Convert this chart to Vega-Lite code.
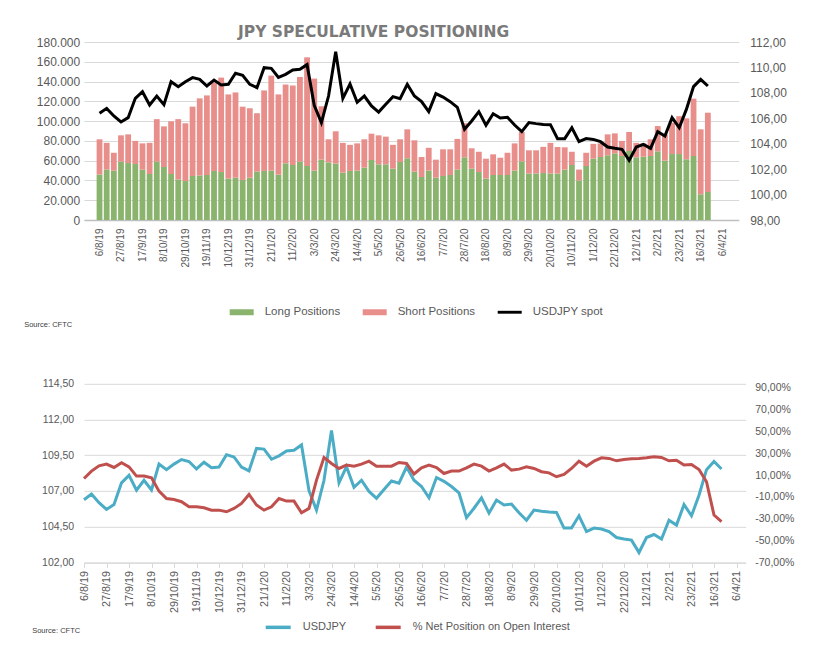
{
  "$schema": "https://vega.github.io/schema/vega-lite/v6.json",
  "background": "white",
  "padding": {"left": 23, "top": 25, "right": 10, "bottom": 10},
  "spacing": 50.8,
  "resolve": {"scale": {"color": "independent"}, "legend": {"color": "independent"}},
  "config": {
    "locale": {"number": {"decimal": ",", "thousands": ".", "grouping": [3], "currency": ["", " €"], "minus": "-"}},
    "view": {"stroke": null},
    "font": "Liberation Sans",
    "axis": {"labelColor": "#595959", "labelFont": "Liberation Sans", "domain": false, "ticks": false, "grid": false, "title": null, "gridColor": "#d9d9d9", "gridWidth": 1, "labelOverlap": false}
  },
  "datasets": {
    "jpy": [
      {"date": "2019-08-06", "long": 46000, "short": 35600, "usdjpy": 106.39, "net": 0.069},
      {"date": "2019-08-13", "long": 51000, "short": 27000, "usdjpy": 106.78, "net": 0.137},
      {"date": "2019-08-20", "long": 50000, "short": 18000, "usdjpy": 106.18, "net": 0.185},
      {"date": "2019-08-27", "long": 59000, "short": 26600, "usdjpy": 105.71, "net": 0.201},
      {"date": "2019-09-03", "long": 57600, "short": 29000, "usdjpy": 106.05, "net": 0.170},
      {"date": "2019-09-10", "long": 56600, "short": 23400, "usdjpy": 107.57, "net": 0.213},
      {"date": "2019-09-17", "long": 51000, "short": 26500, "usdjpy": 108.09, "net": 0.176},
      {"date": "2019-09-24", "long": 46500, "short": 31500, "usdjpy": 107.05, "net": 0.091},
      {"date": "2019-10-01", "long": 59000, "short": 43000, "usdjpy": 107.75, "net": 0.091},
      {"date": "2019-10-08", "long": 53600, "short": 41100, "usdjpy": 107.07, "net": 0.076},
      {"date": "2019-10-15", "long": 46500, "short": 53300, "usdjpy": 108.88, "net": -0.047},
      {"date": "2019-10-22", "long": 41000, "short": 61000, "usdjpy": 108.49, "net": -0.114},
      {"date": "2019-10-29", "long": 39400, "short": 58400, "usdjpy": 108.88, "net": -0.123},
      {"date": "2019-11-05", "long": 44500, "short": 70100, "usdjpy": 109.20, "net": -0.144},
      {"date": "2019-11-12", "long": 45000, "short": 78000, "usdjpy": 109.06, "net": -0.190},
      {"date": "2019-11-19", "long": 45500, "short": 80500, "usdjpy": 108.54, "net": -0.190},
      {"date": "2019-11-26", "long": 49600, "short": 89400, "usdjpy": 109.01, "net": -0.199},
      {"date": "2019-12-03", "long": 48500, "short": 95500, "usdjpy": 108.62, "net": -0.221},
      {"date": "2019-12-10", "long": 42000, "short": 85000, "usdjpy": 108.67, "net": -0.221},
      {"date": "2019-12-17", "long": 42800, "short": 86200, "usdjpy": 109.54, "net": -0.236},
      {"date": "2019-12-24", "long": 40500, "short": 74100, "usdjpy": 109.38, "net": -0.205},
      {"date": "2019-12-31", "long": 42800, "short": 70200, "usdjpy": 108.67, "net": -0.160},
      {"date": "2020-01-07", "long": 48900, "short": 59100, "usdjpy": 108.41, "net": -0.077},
      {"date": "2020-01-14", "long": 49600, "short": 81400, "usdjpy": 109.98, "net": -0.174},
      {"date": "2020-01-21", "long": 50000, "short": 96000, "usdjpy": 109.93, "net": -0.221},
      {"date": "2020-01-28", "long": 45800, "short": 81200, "usdjpy": 109.22, "net": -0.190},
      {"date": "2020-02-04", "long": 57300, "short": 79700, "usdjpy": 109.46, "net": -0.114},
      {"date": "2020-02-11", "long": 55600, "short": 80400, "usdjpy": 109.80, "net": -0.138},
      {"date": "2020-02-18", "long": 59000, "short": 85600, "usdjpy": 109.85, "net": -0.138},
      {"date": "2020-02-25", "long": 54600, "short": 109900, "usdjpy": 110.22, "net": -0.245},
      {"date": "2020-03-03", "long": 50000, "short": 93000, "usdjpy": 107.02, "net": -0.205},
      {"date": "2020-03-10", "long": 61000, "short": 54000, "usdjpy": 105.66, "net": 0.054},
      {"date": "2020-03-17", "long": 58300, "short": 23300, "usdjpy": 107.75, "net": 0.262},
      {"date": "2020-03-24", "long": 57000, "short": 32700, "usdjpy": 111.24, "net": 0.207},
      {"date": "2020-03-31", "long": 47900, "short": 30100, "usdjpy": 107.57, "net": 0.161},
      {"date": "2020-04-07", "long": 49600, "short": 26400, "usdjpy": 108.70, "net": 0.192},
      {"date": "2020-04-14", "long": 50000, "short": 27500, "usdjpy": 107.26, "net": 0.182},
      {"date": "2020-04-21", "long": 53000, "short": 28600, "usdjpy": 107.75, "net": 0.201},
      {"date": "2020-04-28", "long": 60700, "short": 26600, "usdjpy": 106.97, "net": 0.228},
      {"date": "2020-05-05", "long": 56300, "short": 29300, "usdjpy": 106.49, "net": 0.182},
      {"date": "2020-05-12", "long": 56300, "short": 28000, "usdjpy": 107.10, "net": 0.182},
      {"date": "2020-05-19", "long": 52000, "short": 24000, "usdjpy": 107.70, "net": 0.182},
      {"date": "2020-05-26", "long": 58700, "short": 22900, "usdjpy": 107.54, "net": 0.216},
      {"date": "2020-06-02", "long": 62400, "short": 29300, "usdjpy": 108.67, "net": 0.207},
      {"date": "2020-06-09", "long": 48900, "short": 31700, "usdjpy": 107.75, "net": 0.110},
      {"date": "2020-06-16", "long": 43500, "short": 20200, "usdjpy": 107.31, "net": 0.167},
      {"date": "2020-06-23", "long": 50000, "short": 23000, "usdjpy": 106.52, "net": 0.192},
      {"date": "2020-06-30", "long": 42800, "short": 18200, "usdjpy": 107.94, "net": 0.170},
      {"date": "2020-07-07", "long": 44500, "short": 27000, "usdjpy": 107.67, "net": 0.115},
      {"date": "2020-07-14", "long": 45500, "short": 26000, "usdjpy": 107.31, "net": 0.137},
      {"date": "2020-07-21", "long": 51000, "short": 31000, "usdjpy": 106.86, "net": 0.137},
      {"date": "2020-07-28", "long": 63400, "short": 34400, "usdjpy": 105.13, "net": 0.167},
      {"date": "2020-08-04", "long": 52000, "short": 20500, "usdjpy": 105.79, "net": 0.201},
      {"date": "2020-08-11", "long": 48500, "short": 20500, "usdjpy": 106.52, "net": 0.182},
      {"date": "2020-08-18", "long": 42000, "short": 20000, "usdjpy": 105.45, "net": 0.137},
      {"date": "2020-08-25", "long": 45500, "short": 20900, "usdjpy": 106.36, "net": 0.167},
      {"date": "2020-09-01", "long": 45500, "short": 17500, "usdjpy": 106.02, "net": 0.201},
      {"date": "2020-09-08", "long": 45500, "short": 22500, "usdjpy": 106.08, "net": 0.146},
      {"date": "2020-09-15", "long": 50000, "short": 27500, "usdjpy": 105.47, "net": 0.155},
      {"date": "2020-09-22", "long": 59300, "short": 29700, "usdjpy": 104.95, "net": 0.176},
      {"date": "2020-09-29", "long": 47000, "short": 23500, "usdjpy": 105.66, "net": 0.161},
      {"date": "2020-10-06", "long": 47000, "short": 23500, "usdjpy": 105.58, "net": 0.131},
      {"date": "2020-10-13", "long": 47500, "short": 26500, "usdjpy": 105.52, "net": 0.121},
      {"date": "2020-10-20", "long": 47000, "short": 31000, "usdjpy": 105.50, "net": 0.085},
      {"date": "2020-10-27", "long": 47000, "short": 26800, "usdjpy": 104.40, "net": 0.106},
      {"date": "2020-11-03", "long": 51000, "short": 22500, "usdjpy": 104.40, "net": 0.161},
      {"date": "2020-11-10", "long": 55600, "short": 13400, "usdjpy": 105.26, "net": 0.228},
      {"date": "2020-11-17", "long": 40000, "short": 11000, "usdjpy": 104.16, "net": 0.182},
      {"date": "2020-11-24", "long": 54600, "short": 13400, "usdjpy": 104.40, "net": 0.228},
      {"date": "2020-12-01", "long": 62000, "short": 15000, "usdjpy": 104.34, "net": 0.259},
      {"date": "2020-12-08", "long": 63700, "short": 13800, "usdjpy": 104.16, "net": 0.253},
      {"date": "2020-12-15", "long": 65400, "short": 21200, "usdjpy": 103.74, "net": 0.231},
      {"date": "2020-12-22", "long": 67400, "short": 20200, "usdjpy": 103.64, "net": 0.244},
      {"date": "2020-12-29", "long": 64700, "short": 15300, "usdjpy": 103.56, "net": 0.250},
      {"date": "2021-01-05", "long": 69800, "short": 19200, "usdjpy": 102.69, "net": 0.253},
      {"date": "2021-01-12", "long": 63400, "short": 14600, "usdjpy": 103.74, "net": 0.259},
      {"date": "2021-01-19", "long": 64000, "short": 13500, "usdjpy": 103.95, "net": 0.268},
      {"date": "2021-01-26", "long": 64700, "short": 16900, "usdjpy": 103.64, "net": 0.262},
      {"date": "2021-02-02", "long": 69400, "short": 25600, "usdjpy": 104.95, "net": 0.231},
      {"date": "2021-02-09", "long": 60000, "short": 26600, "usdjpy": 104.61, "net": 0.237},
      {"date": "2021-02-16", "long": 66700, "short": 31700, "usdjpy": 106.05, "net": 0.192},
      {"date": "2021-02-23", "long": 66700, "short": 38300, "usdjpy": 105.26, "net": 0.198},
      {"date": "2021-03-02", "long": 61400, "short": 41400, "usdjpy": 106.70, "net": 0.152},
      {"date": "2021-03-09", "long": 64700, "short": 58000, "usdjpy": 108.49, "net": 0.039},
      {"date": "2021-03-16", "long": 26000, "short": 65700, "usdjpy": 109.06, "net": -0.266},
      {"date": "2021-03-23", "long": 28300, "short": 80200, "usdjpy": 108.54, "net": -0.327}
    ]
  },
  "vconcat": [
    {
      "width": 654.7,
      "height": 178,
      "title": {"text": "JPY SPECULATIVE POSITIONING", "frame": "group", "anchor": "middle", "dx": -37.7, "offset": -16.9, "baseline": "alphabetic", "font": "DejaVu Sans", "fontSize": 15.5, "fontWeight": "bold", "color": "#7a7a7a"},
      "data": {"name": "jpy"},
      "encoding": {
        "x": {
          "field": "date", "type": "temporal",
          "scale": {"type": "utc", "domain": [{"year": 2019, "month": 7, "date": 26, "hours": 17, "utc": true}, {"year": 2021, "month": 4, "date": 17, "hours": 7, "utc": true}]},
          "axis": {
            "values": [
              {"year": 2019, "month": 8, "date": 6, "utc": true}, {"year": 2019, "month": 8, "date": 27, "utc": true},
              {"year": 2019, "month": 9, "date": 17, "utc": true}, {"year": 2019, "month": 10, "date": 8, "utc": true},
              {"year": 2019, "month": 10, "date": 29, "utc": true}, {"year": 2019, "month": 11, "date": 19, "utc": true},
              {"year": 2019, "month": 12, "date": 10, "utc": true}, {"year": 2019, "month": 12, "date": 31, "utc": true},
              {"year": 2020, "month": 1, "date": 21, "utc": true}, {"year": 2020, "month": 2, "date": 11, "utc": true},
              {"year": 2020, "month": 3, "date": 3, "utc": true}, {"year": 2020, "month": 3, "date": 24, "utc": true},
              {"year": 2020, "month": 4, "date": 14, "utc": true}, {"year": 2020, "month": 5, "date": 5, "utc": true},
              {"year": 2020, "month": 5, "date": 26, "utc": true}, {"year": 2020, "month": 6, "date": 16, "utc": true},
              {"year": 2020, "month": 7, "date": 7, "utc": true}, {"year": 2020, "month": 7, "date": 28, "utc": true},
              {"year": 2020, "month": 8, "date": 18, "utc": true}, {"year": 2020, "month": 9, "date": 8, "utc": true},
              {"year": 2020, "month": 9, "date": 29, "utc": true}, {"year": 2020, "month": 10, "date": 20, "utc": true},
              {"year": 2020, "month": 11, "date": 10, "utc": true}, {"year": 2020, "month": 12, "date": 1, "utc": true},
              {"year": 2020, "month": 12, "date": 22, "utc": true}, {"year": 2021, "month": 1, "date": 12, "utc": true},
              {"year": 2021, "month": 2, "date": 2, "utc": true}, {"year": 2021, "month": 2, "date": 23, "utc": true},
              {"year": 2021, "month": 3, "date": 16, "utc": true}, {"year": 2021, "month": 4, "date": 6, "utc": true}
            ],
            "format": "%-d/%-m/%y",
            "labelAngle": -90, "labelFontSize": 10, "labelPadding": 8, "labelFlush": false, "labelOverlap": false,
            "domain": true, "domainColor": "#bfbfbf", "domainWidth": 1.5, "ticks": false, "tickSize": 0,
            "title": "Source: CFTC", "titleFontSize": 7.5, "titleFontWeight": "normal", "titleColor": "#404040",
            "titleX": -60.3, "titleY": 104.3, "titleAlign": "left", "titleBaseline": "middle", "titleAngle": 0
          }
        }
      },
      "layer": [
        {
          "transform": [{"fold": ["long", "short"], "as": ["series", "value"]}],
          "mark": {"type": "bar", "width": 5.8},
          "encoding": {
            "y": {
              "field": "value", "type": "quantitative", "stack": "zero",
              "scale": {"domain": [0, 180000], "nice": false},
              "axis": {"values": [0, 20000, 40000, 60000, 80000, 100000, 120000, 140000, 160000, 180000], "format": ",.0f", "labelFontSize": 12, "labelPadding": 4.3, "grid": true, "title": null}
            },
            "color": {
              "field": "series", "type": "nominal",
              "scale": {"domain": ["long", "short", "spot"], "range": ["#8ab46e", "#e88f8c", "#000000"]},
              "legend": {
                "title": null, "orient": "none", "legendX": 145.7, "legendY": 258, "direction": "horizontal", "padding": 0,
                "symbolSize": 576, "symbolStrokeWidth": 0, "labelOffset": 11, "columnPadding": 22,
                "labelFontSize": 11.5, "labelColor": "#595959", "labelFont": "Liberation Sans",
                "labelExpr": "datum.label == 'long' ? 'Long Positions' : datum.label == 'short' ? 'Short Positions' : 'USDJPY spot'",
                "encode": {"symbols": {"update": {"shape": {"signal": "datum.value == 'spot' ? 'M-1,-0.12H1V0.12H-1Z' : 'M-1,-0.25H1V0.25H-1Z'"}}}}
              }
            },
            "order": {"field": "series", "sort": "ascending"}
          }
        },
        {
          "mark": {"type": "line", "color": "#000000", "strokeWidth": 3},
          "encoding": {
            "y": {
              "field": "usdjpy", "type": "quantitative",
              "scale": {"domain": [98, 112], "nice": false, "zero": false},
              "axis": {"orient": "right", "values": [98, 100, 102, 104, 106, 108, 110, 112], "format": ".2f", "labelFontSize": 12, "labelPadding": 11, "grid": false, "title": null}
            }
          }
        }
      ],
      "resolve": {"scale": {"y": "independent"}}
    },
    {
      "width": 661.7,
      "height": 178.6,
      "data": {"name": "jpy"},
      "encoding": {
        "x": {
          "field": "date", "type": "temporal",
          "scale": {"type": "utc", "domain": [{"year": 2019, "month": 8, "date": 6, "utc": true}, {"year": 2021, "month": 4, "date": 14, "hours": 14, "utc": true}]},
          "axis": {
            "values": [
              {"year": 2019, "month": 8, "date": 6, "utc": true}, {"year": 2019, "month": 8, "date": 27, "utc": true},
              {"year": 2019, "month": 9, "date": 17, "utc": true}, {"year": 2019, "month": 10, "date": 8, "utc": true},
              {"year": 2019, "month": 10, "date": 29, "utc": true}, {"year": 2019, "month": 11, "date": 19, "utc": true},
              {"year": 2019, "month": 12, "date": 10, "utc": true}, {"year": 2019, "month": 12, "date": 31, "utc": true},
              {"year": 2020, "month": 1, "date": 21, "utc": true}, {"year": 2020, "month": 2, "date": 11, "utc": true},
              {"year": 2020, "month": 3, "date": 3, "utc": true}, {"year": 2020, "month": 3, "date": 24, "utc": true},
              {"year": 2020, "month": 4, "date": 14, "utc": true}, {"year": 2020, "month": 5, "date": 5, "utc": true},
              {"year": 2020, "month": 5, "date": 26, "utc": true}, {"year": 2020, "month": 6, "date": 16, "utc": true},
              {"year": 2020, "month": 7, "date": 7, "utc": true}, {"year": 2020, "month": 7, "date": 28, "utc": true},
              {"year": 2020, "month": 8, "date": 18, "utc": true}, {"year": 2020, "month": 9, "date": 8, "utc": true},
              {"year": 2020, "month": 9, "date": 29, "utc": true}, {"year": 2020, "month": 10, "date": 20, "utc": true},
              {"year": 2020, "month": 11, "date": 10, "utc": true}, {"year": 2020, "month": 12, "date": 1, "utc": true},
              {"year": 2020, "month": 12, "date": 22, "utc": true}, {"year": 2021, "month": 1, "date": 12, "utc": true},
              {"year": 2021, "month": 2, "date": 2, "utc": true}, {"year": 2021, "month": 2, "date": 23, "utc": true},
              {"year": 2021, "month": 3, "date": 16, "utc": true}, {"year": 2021, "month": 4, "date": 6, "utc": true}
            ],
            "format": "%-d/%-m/%y",
            "labelAngle": -90, "labelFontSize": 10.8, "labelPadding": 3, "labelFlush": false, "labelOverlap": false,
            "domain": true, "domainColor": "#d9d9d9", "ticks": true, "tickColor": "#d9d9d9", "tickSize": 5,
            "title": "Source: CFTC", "titleFontSize": 7.5, "titleFontWeight": "normal", "titleColor": "#404040",
            "titleX": -52.3, "titleY": 67.7, "titleAlign": "left", "titleBaseline": "middle", "titleAngle": 0
          }
        },
        "color": {
          "type": "nominal",
          "scale": {"domain": ["USDJPY", "% Net Position on Open Interest"], "range": ["#4bacc6", "#c0504d"]},
          "legend": {
            "title": null, "orient": "none", "legendX": 179.7, "legendY": 228.8, "direction": "horizontal", "padding": 0,
            "symbolType": "stroke", "symbolSize": 625, "symbolStrokeWidth": 3.5, "labelOffset": 10, "columnPadding": 22,
            "labelFontSize": 11, "labelColor": "#595959", "labelFont": "Liberation Sans"
          }
        }
      },
      "layer": [
        {
          "mark": {"type": "line", "strokeWidth": 3},
          "encoding": {
            "y": {
              "field": "usdjpy", "type": "quantitative",
              "scale": {"domain": [102, 114.5], "nice": false, "zero": false},
              "axis": {"values": [102, 104.5, 107, 109.5, 112, 114.5], "format": ".2f", "labelFontSize": 10.5, "labelPadding": 10.3, "grid": true, "title": null}
            },
            "color": {"datum": "USDJPY", "type": "nominal"}
          }
        },
        {
          "mark": {"type": "line", "strokeWidth": 3},
          "encoding": {
            "y": {
              "field": "net", "type": "quantitative",
              "scale": {"domain": [-0.7, 0.937], "nice": false, "zero": false},
              "axis": {"orient": "right", "values": [-0.7, -0.5, -0.3, -0.1, 0.1, 0.3, 0.5, 0.7, 0.9], "format": ".2%", "labelFontSize": 10.5, "labelPadding": 9, "grid": false, "title": null}
            },
            "color": {"datum": "% Net Position on Open Interest", "type": "nominal"}
          }
        }
      ],
      "resolve": {"scale": {"y": "independent"}}
    }
  ]
}
